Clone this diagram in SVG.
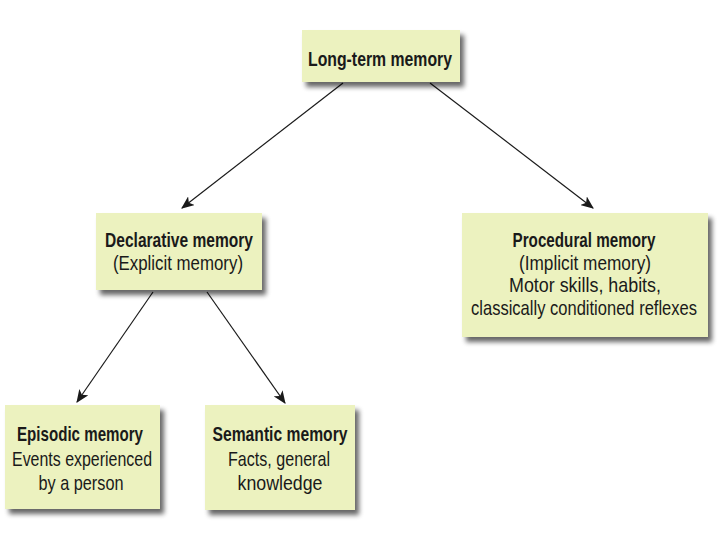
<svg xmlns="http://www.w3.org/2000/svg" width="720" height="540" viewBox="0 0 720 540">
<defs>
<filter id="sh" x="-10%" y="-10%" width="130%" height="140%">
<feGaussianBlur in="SourceAlpha" stdDeviation="2.5"/>
<feOffset dx="4" dy="5" result="b"/>
<feComponentTransfer><feFuncA type="linear" slope="0.6"/></feComponentTransfer>
<feMerge><feMergeNode/><feMergeNode in="SourceGraphic"/></feMerge>
</filter>
<marker id="ah" viewBox="0 0 12 10" refX="11" refY="5" markerWidth="13" markerHeight="11" markerUnits="userSpaceOnUse" orient="auto">
<path d="M0,0 L12,5 L0,10 L3,5 z" fill="#1a1a1a"/>
</marker>
</defs>
<style>
.box{fill:#ecf2bf;filter:url(#sh)}
.t{font-family:"Liberation Sans",Arial,sans-serif;font-size:21px;fill:#1a1a1a;text-anchor:middle}
.b{font-weight:bold}
.n{font-size:15px}
.c{stroke:#1a1a1a;stroke-width:1.2;fill:none;marker-end:url(#ah)}
</style>
<rect width="720" height="540" fill="#ffffff"/>
<g id="connectors">
<line class="c" x1="343" y1="83" x2="182" y2="208"/>
<line class="c" x1="430" y1="83" x2="593" y2="208"/>
<line class="c" x1="153" y1="292" x2="77" y2="402"/>
<line class="c" x1="207" y1="292" x2="285" y2="403"/>
</g>
<g id="long-term">
<rect class="box" x="302" y="30" width="158" height="52"/>
<text class="t b" x="380" y="66" textLength="144" lengthAdjust="spacingAndGlyphs">Long-term memory</text>
</g>
<g id="declarative">
<rect class="box" x="96" y="213" width="166" height="77"/>
<text class="t b" x="179" y="247" textLength="148" lengthAdjust="spacingAndGlyphs">Declarative memory</text>
<text class="t" x="178" y="270" textLength="130" lengthAdjust="spacingAndGlyphs">(Explicit memory)</text>
</g>
<g id="procedural">
<rect class="box" x="462" y="213" width="246" height="124"/>
<text class="t b" x="584" y="247" textLength="143" lengthAdjust="spacingAndGlyphs">Procedural memory</text>
<text class="t" x="585" y="270" textLength="132" lengthAdjust="spacingAndGlyphs">(Implicit memory)</text>
<text class="t" x="585" y="292" textLength="152" lengthAdjust="spacingAndGlyphs">Motor skills, habits,</text>
<text class="t n" transform="translate(584,315) scale(1,1.4)" x="0" y="0" textLength="226" lengthAdjust="spacingAndGlyphs">classically conditioned reflexes</text>
</g>
<g id="episodic">
<rect class="box" x="5" y="405" width="155" height="104"/>
<text class="t b" x="80" y="441" textLength="126" lengthAdjust="spacingAndGlyphs">Episodic memory</text>
<text class="t" x="82" y="466" textLength="140" lengthAdjust="spacingAndGlyphs">Events experienced</text>
<text class="t" x="81" y="490" textLength="85" lengthAdjust="spacingAndGlyphs">by a person</text>
</g>
<g id="semantic">
<rect class="box" x="205" y="405" width="150" height="105"/>
<text class="t b" x="280" y="441" textLength="135" lengthAdjust="spacingAndGlyphs">Semantic memory</text>
<text class="t" x="279" y="466" textLength="102" lengthAdjust="spacingAndGlyphs">Facts, general</text>
<text class="t" x="280" y="490" textLength="85" lengthAdjust="spacingAndGlyphs">knowledge</text>
</g>
</svg>
